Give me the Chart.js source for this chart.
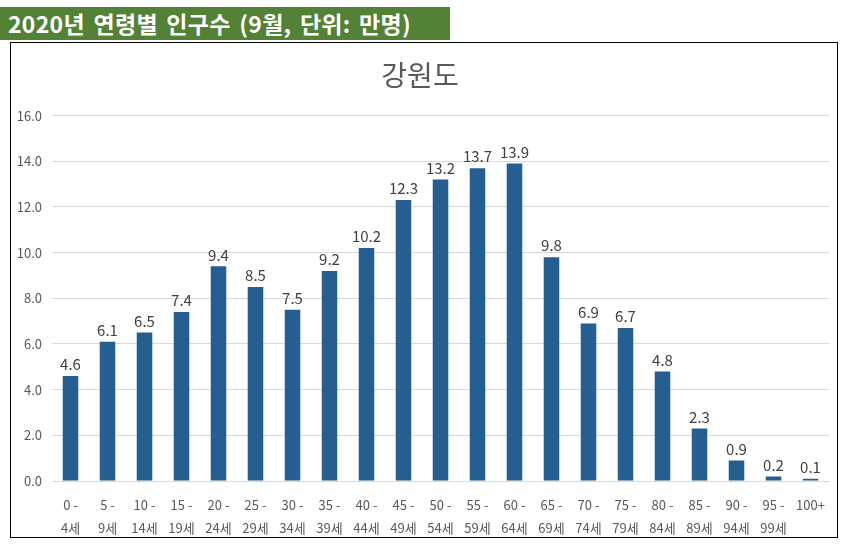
<!DOCTYPE html>
<html>
<head>
<meta charset="utf-8">
<script src="https://cdn.jsdelivr.net/npm/chart.js@4"></script>
<style>
  body { margin: 0; background: #fff; font-family: 'Noto Sans CJK KR', sans-serif; }
  #banner {
    position: absolute; left: 0; top: 7px; width: 450px; height: 33px;
    background: #538135; color: #fff; font-weight: bold; font-size: 23px;
    line-height: 33px; padding-left: 8px; box-sizing: border-box; white-space: nowrap;
    letter-spacing: 0.3px; word-spacing: 3px;
  }
  #box {
    position: absolute; left: 10px; top: 42px; width: 828px; height: 496px;
    border: 1.5px solid #000; box-sizing: border-box;
  }
</style>
</head>
<body>
<div id="banner">2020년 연령별 인구수 (9월, 단위: 만명)</div>
<div id="box"><canvas id="chart"></canvas></div>
<script>
const ageGroups = [
  ['0 -', '4세'], ['5 -', '9세'], ['10 -', '14세'], ['15 -', '19세'], ['20 -', '24세'],
  ['25 -', '29세'], ['30 -', '34세'], ['35 -', '39세'], ['40 -', '44세'], ['45 -', '49세'],
  ['50 -', '54세'], ['55 -', '59세'], ['60 -', '64세'], ['65 -', '69세'], ['70 -', '74세'],
  ['75 -', '79세'], ['80 -', '84세'], ['85 -', '89세'], ['90 -', '94세'], ['95 -', '99세'],
  '100+'
];
const population = [4.6, 6.1, 6.5, 7.4, 9.4, 8.5, 7.5, 9.2, 10.2, 12.3, 13.2, 13.7, 13.9,
  9.8, 6.9, 6.7, 4.8, 2.3, 0.9, 0.2, 0.1];
const yTicks = [0, 2, 4, 6, 8, 10, 12, 14, 16];

const fontFamily = "'Noto Sans CJK KR', 'Noto Sans', sans-serif";

// draws the value above each bar
const barLabels = {
  id: 'barLabels',
  afterDatasetsDraw(chart) {
    const ctx = chart.ctx;
    const meta = chart.getDatasetMeta(0);
    ctx.save();
    ctx.font = '15px ' + fontFamily;
    ctx.fillStyle = '#404040';
    ctx.textAlign = 'center';
    ctx.textBaseline = 'bottom';
    meta.data.forEach((bar, i) => {
      ctx.fillText(population[i].toFixed(1), bar.x, bar.y - 4);
    });
    ctx.restore();
  }
};

const ctx = document.getElementById('chart').getContext('2d');
new Chart(ctx, {
  type: 'bar',
  data: {
    labels: ageGroups,
    datasets: [{
      data: population,
      backgroundColor: '#255E91',
      barPercentage: 0.42,
      categoryPercentage: 1
    }]
  },
  options: {
    responsive: true,
    maintainAspectRatio: false,
    animation: false,
    layout: { padding: { left: 0, right: 8, top: 0, bottom: 0 } },
    plugins: {
      legend: { display: false },
      tooltip: { enabled: false },
      title: {
        display: true,
        text: '강원도',
        color: '#595959',
        font: { family: fontFamily, size: 28, weight: 'normal' },
        padding: { top: 16, bottom: 23 }
      }
    },
    scales: {
      x: {
        grid: { display: false },
        border: { color: '#d9d9d9' },
        ticks: {
          color: '#595959',
          font: { family: fontFamily, size: 13, lineHeight: 1.75 },
          maxRotation: 0,
          autoSkip: false,
          padding: 5
        },
        afterFit(scale) { scale.height = 56; }
      },
      y: {
        min: 0,
        max: 16,
        afterBuildTicks(scale) { scale.ticks = yTicks.map(v => ({ value: v })); },
        grid: { color: '#d9d9d9', drawTicks: false },
        border: { display: false },
        ticks: {
          color: '#595959',
          font: { family: fontFamily, size: 13 },
          padding: 10,
          callback: v => v.toFixed(1)
        },
        afterFit(scale) { scale.width = 41; }
      }
    }
  },
  plugins: [barLabels]
});
</script>
</body>
</html>
